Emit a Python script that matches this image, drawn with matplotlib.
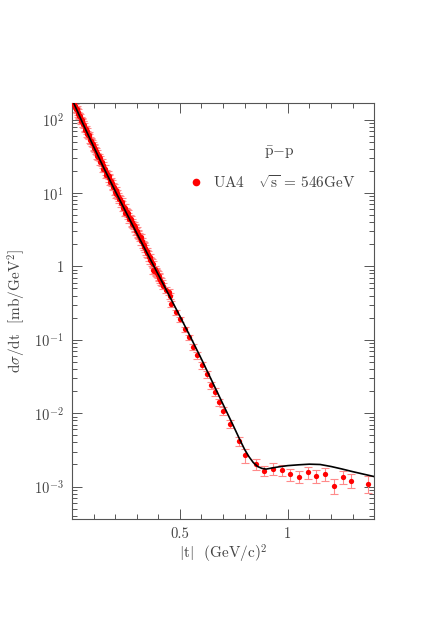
import matplotlib
matplotlib.use("Agg")
import matplotlib.pyplot as plt
import numpy as np
from matplotlib.ticker import FixedLocator, MultipleLocator, LogLocator, FuncFormatter, NullFormatter
from matplotlib.lines import Line2D

plt.rcParams['font.family'] = 'serif'
plt.rcParams['font.serif'] = ['cmr10', 'DejaVu Serif']
plt.rcParams['mathtext.fontset'] = 'cm'
plt.rcParams['axes.unicode_minus'] = False

# ---- data: UA4 p-pbar elastic dσ/dt at sqrt(s)=546 GeV ----
t_data = [0.008, 0.012, 0.016, 0.020, 0.025, 0.030, 0.035, 0.040, 0.045, 0.050,
          0.056, 0.062, 0.068, 0.074, 0.080, 0.087, 0.094, 0.101, 0.108, 0.115,
          0.122, 0.129, 0.136, 0.143, 0.150, 0.157, 0.164, 0.171, 0.178, 0.185,
          0.192, 0.199, 0.206, 0.213, 0.220, 0.227, 0.234, 0.241, 0.248, 0.255,
          0.262, 0.269, 0.276, 0.283, 0.290, 0.297, 0.304, 0.311, 0.318, 0.325,
          0.332, 0.339, 0.346, 0.353, 0.360, 0.367, 0.374, 0.381, 0.388, 0.395,
          0.402, 0.409, 0.416,
          0.422, 0.438, 0.449, 0.456, 0.461, 0.480, 0.503, 0.522, 0.542, 0.562,
          0.581, 0.601, 0.624, 0.643, 0.661, 0.683, 0.702, 0.733, 0.775, 0.803,
          0.852, 0.891, 0.933, 0.972, 1.012, 1.053, 1.093, 1.133, 1.174, 1.214,
          1.254, 1.295, 1.374]
dsdt_data = [160, 155, 150, 137, 133, 118, 114, 101, 98, 87,
             83, 73, 70, 61, 59, 50.5, 48, 41, 39.5, 35.5,
             30.8, 29.5, 26.2, 23.9, 21.8, 19.0, 18.2, 16.8, 14.0, 13.6,
             12.5, 10.4, 9.6, 9.2, 8.5, 7.2, 7.1, 6.5, 5.4, 5.5,
             4.9, 4.6, 3.8, 3.7, 3.4, 3.0, 2.8, 2.6, 2.5, 2.2,
             1.95, 1.75, 1.6, 1.45, 1.32, 1.18, 1.06, 0.87, 0.86, 0.80,
             0.73, 0.66, 0.60,
             0.54, 0.477, 0.452, 0.394, 0.307, 0.236, 0.190, 0.139, 0.108, 0.0805,
             0.0621, 0.0454, 0.0343, 0.0243, 0.0197, 0.0141, 0.0107, 0.00715, 0.0042, 0.00268,
             0.00204, 0.00164, 0.00175, 0.00169, 0.00148, 0.00137, 0.00157, 0.00140, 0.00148, 0.00103,
             0.00137, 0.00121, 0.00110]
err_pct = [8, 8, 8, 8, 8, 8, 8, 8, 8, 8,
           8, 8, 8, 8, 8, 8, 8, 8, 8, 8,
           9, 9, 9, 9, 9, 9, 9, 9, 9, 9,
           9, 9, 10, 10, 10, 10, 10, 10, 10, 10,
           10, 10, 10, 10, 10, 10, 10, 10, 10, 10,
           10, 10, 10, 10, 10, 10, 10, 10, 10, 10,
           10, 10, 10,
           9, 9, 9, 9, 9, 9, 9, 9, 9, 9,
           11, 11, 11, 11, 12, 12, 12, 13, 14, 22,
           18, 15, 18, 18, 19, 19, 19, 20, 20, 23,
           20, 21, 25]

# second, interleaved small-|t| set
t_data2 = [0.010, 0.018, 0.022, 0.028, 0.033, 0.038, 0.043, 0.048, 0.053, 0.059,
           0.065, 0.071, 0.077, 0.083, 0.090, 0.097, 0.104, 0.111, 0.118, 0.125,
           0.132, 0.139, 0.146, 0.153, 0.160, 0.167, 0.174, 0.181, 0.188, 0.195,
           0.202, 0.209, 0.216, 0.223, 0.230, 0.237, 0.244, 0.251, 0.258, 0.265,
           0.272, 0.279, 0.286, 0.293, 0.300, 0.307, 0.314, 0.321, 0.328, 0.335,
           0.342, 0.349, 0.356, 0.363, 0.370, 0.377, 0.384, 0.391, 0.398, 0.405,
           0.412]
dsdt_data2 = [166, 140, 141, 126, 112, 110, 96, 94, 88, 76,
              74, 63, 62, 53, 51.5, 46, 42, 37, 32, 31.5,
              26.5, 26, 21.5, 21.5, 17.6, 17.8, 15.8, 14.6, 12.2, 12.0,
              10.9, 10.0, 8.3, 8.3, 7.6, 6.3, 6.3, 5.7, 5.3, 4.4,
              4.4, 4.0, 3.6, 3.3, 3.05, 2.75, 2.45, 2.2, 2.0, 1.85,
              1.62, 1.52, 1.34, 1.21, 1.12, 0.88, 0.92, 0.84, 0.77, 0.70,
              0.62]
err_pct2 = [9, 9, 9, 9, 9, 9, 9, 9, 9, 9,
            9, 9, 9, 9, 9, 9, 9, 9, 9, 9,
            10, 10, 10, 10, 10, 10, 10, 10, 10, 10,
            11, 11, 11, 11, 11, 11, 11, 11, 11, 11,
            11, 11, 11, 11, 11, 11, 11, 11, 11, 11,
            11, 11, 11, 11, 11, 11, 11, 11, 11, 11,
            11]

# ---- model curve ----
t_model = [0.00, 0.05, 0.10, 0.15, 0.20, 0.25, 0.30, 0.35, 0.40, 0.45,
           0.50, 0.55, 0.60, 0.65, 0.70, 0.75, 0.78, 0.80, 0.82, 0.84,
           0.86, 0.88, 0.90, 0.93, 0.96, 1.00, 1.05, 1.10, 1.15, 1.20,
           1.25, 1.30, 1.35, 1.40]
dsdt_model = [190, 89, 43, 21.2, 10.7, 5.50, 2.84, 1.48, 0.771, 0.403,
              0.210, 0.108, 0.0546, 0.0269, 0.01324, 0.00653, 0.00423, 0.00321, 0.00256, 0.00213,
              0.00188, 0.00177, 0.00173, 0.00180, 0.00186, 0.00193, 0.00198, 0.00202, 0.00200, 0.00188,
              0.00174, 0.00160, 0.00148, 0.00137]

x_ticks = [0.5, 1.0]
x_ticklabels = ['0.5', '1']

fig = plt.figure(figsize=(4.36, 6.24), dpi=100)
ax = fig.add_axes([0.165, 0.168, 0.693, 0.667])

ecol = '#ff8a8a'
for tt, yy, ee in [(t_data, dsdt_data, err_pct), (t_data2, dsdt_data2, err_pct2)]:
    ta = np.array(tt)
    ya = np.array(yy)
    ea = ya * np.array(ee) / 100.0
    ax.errorbar(ta, ya, yerr=ea, fmt='none', ecolor=ecol,
                elinewidth=0.8, capsize=3.0, capthick=0.8, zorder=2)
for tt, yy in [(t_data, dsdt_data), (t_data2, dsdt_data2)]:
    ax.plot(tt, yy, 'o', color='#ff0000', markersize=3.8, markeredgewidth=0, zorder=3)
ax.plot(t_model, dsdt_model, '-', color='black', lw=1.2, zorder=4)

ax.set_yscale('log')
ax.set_xlim(0, 1.4)
ax.set_ylim(3.6e-4, 168)

ax.xaxis.set_major_locator(FixedLocator(x_ticks))
ax.set_xticklabels(x_ticklabels)
ax.xaxis.set_minor_locator(MultipleLocator(0.1))

def yfmt(v, pos):
    n = int(round(np.log10(v)))
    if n == 0:
        return '1'
    return r'$10^{%d}$' % n

ax.yaxis.set_major_locator(LogLocator(base=10, numticks=20))
ax.yaxis.set_major_formatter(FuncFormatter(yfmt))
ax.yaxis.set_minor_locator(LogLocator(base=10, subs=np.arange(2, 10), numticks=20))
ax.yaxis.set_minor_formatter(NullFormatter())

tc = '#555555'
ax.tick_params(which='both', direction='in', top=True, right=True, colors=tc,
               labelcolor='#444444', labelsize=10.5, width=0.7)
ax.tick_params(which='major', length=7, pad=6)
ax.tick_params(which='minor', length=3.5)
for s in ax.spines.values():
    s.set_color(tc)
    s.set_linewidth(0.8)

ax.set_xlabel(r'$|$t$|$  (GeV/c)$^2$', fontsize=11, color='#444444', labelpad=1)
ax.set_ylabel(r'd$\sigma$/dt  [mb/GeV$^2$]', fontsize=11, color='#444444', labelpad=4)

ax.text(0.685, 0.88, r'$\bar{\rm p}$$-$p', transform=ax.transAxes, fontsize=11,
        color='#444444', ha='center', va='center')

handle = Line2D([], [], marker='o', color='#ff0000', ls='none', markersize=5.5, markeredgewidth=0)
leg = ax.legend([handle], [r'UA4   $\sqrt{\rm s}$ = 546GeV'], loc='center left',
                bbox_to_anchor=(0.36, 0.81), frameon=False, fontsize=11,
                handletextpad=0.6, borderpad=0, handlelength=1.0)
for txt in leg.get_texts():
    txt.set_color('#444444')

fig.savefig('out.png', dpi=100)
